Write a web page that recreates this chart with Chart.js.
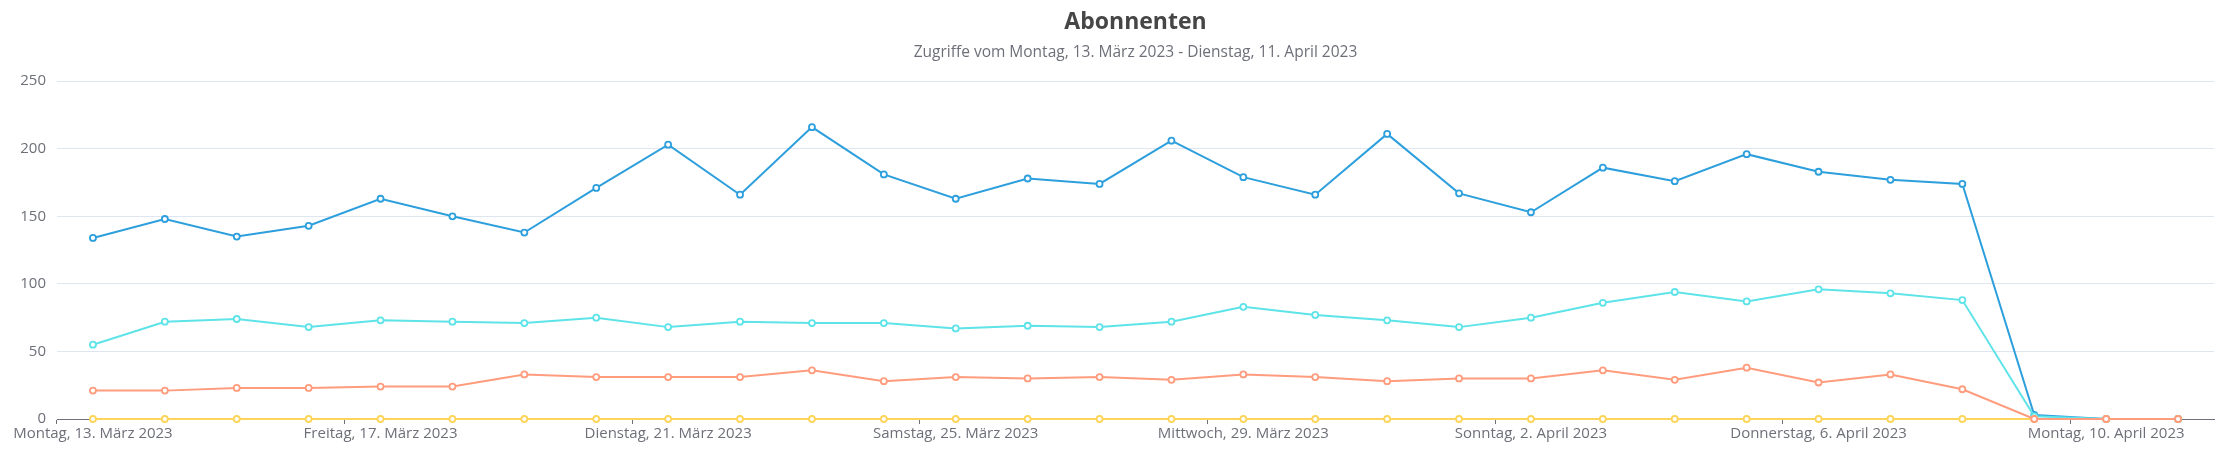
<!DOCTYPE html>
<html lang="de">
<head>
    <meta charset="UTF-8">
    <title>Abonnenten</title>
    <script src="https://cdn.jsdelivr.net/npm/chart.js"></script>
    <style>
        body {
            margin: 0;
            padding: 0;
            background-color: #ffffff;
        }
        .chart-box {
            position: relative;
            width: 2228px;
            height: 455px;
        }
    </style>
</head>
<body>

<div class="chart-box">
    <canvas id="aboChart"></canvas>
</div>

<script>
    // Tage 13. Maerz - 11. April 2023
    var days = [
        'Montag, 13. März 2023', 'Dienstag, 14. März 2023', 'Mittwoch, 15. März 2023', 'Donnerstag, 16. März 2023',
        'Freitag, 17. März 2023', 'Samstag, 18. März 2023', 'Sonntag, 19. März 2023', 'Montag, 20. März 2023',
        'Dienstag, 21. März 2023', 'Mittwoch, 22. März 2023', 'Donnerstag, 23. März 2023', 'Freitag, 24. März 2023',
        'Samstag, 25. März 2023', 'Sonntag, 26. März 2023', 'Montag, 27. März 2023', 'Dienstag, 28. März 2023',
        'Mittwoch, 29. März 2023', 'Donnerstag, 30. März 2023', 'Freitag, 31. März 2023', 'Samstag, 1. April 2023',
        'Sonntag, 2. April 2023', 'Montag, 3. April 2023', 'Dienstag, 4. April 2023', 'Mittwoch, 5. April 2023',
        'Donnerstag, 6. April 2023', 'Freitag, 7. April 2023', 'Samstag, 8. April 2023', 'Sonntag, 9. April 2023',
        'Montag, 10. April 2023', 'Dienstag, 11. April 2023'
    ];

    var blueData = [134, 148, 135, 143, 163, 150, 138, 171, 203, 166, 216, 181, 163, 178, 174,
                    206, 179, 166, 211, 167, 153, 186, 176, 196, 183, 177, 174, 3, 0, 0];
    var cyanData = [55, 72, 74, 68, 73, 72, 71, 75, 68, 72, 71, 71, 67, 69, 68,
                    72, 83, 77, 73, 68, 75, 86, 94, 87, 96, 93, 88, 2, 0, 0];
    var salmonData = [21, 21, 23, 23, 24, 24, 33, 31, 31, 31, 36, 28, 31, 30, 31,
                      29, 33, 31, 28, 30, 30, 36, 29, 38, 27, 33, 22, 0, 0, 0];
    var yellowData = [0, 0, 0, 0, 0, 0, 0, 0, 0, 0, 0, 0, 0, 0, 0,
                      0, 0, 0, 0, 0, 0, 0, 0, 0, 0, 0, 0, 0, 0, 0];

    var yTicks = [0, 50, 100, 150, 200, 250];

    var labelStep = 4;
    var axisGrey = '#6e7079';
    var fontName = "'Open Sans', 'Noto Sans', sans-serif";

    function makeSet(data, color, order) {
        return {
            data: data,
            borderColor: color,
            backgroundColor: '#ffffff',
            pointBackgroundColor: '#ffffff',
            pointBorderColor: color,
            pointRadius: 3,
            pointBorderWidth: 1.8,
            borderWidth: 2,
            tension: 0,
            fill: false,
            clip: 10,
            order: order
        };
    }

    var ctx = document.getElementById('aboChart').getContext('2d');
    new Chart(ctx, {
        type: 'line',
        data: {
            labels: days,
            datasets: [
                makeSet(salmonData, '#ff9c7d', 1),
                makeSet(yellowData, '#fdd55b', 2),
                makeSet(cyanData, '#5ee3e8', 3),
                makeSet(blueData, '#2d9fdc', 4)
            ]
        },
        options: {
            responsive: true,
            maintainAspectRatio: false,
            animation: false,
            layout: {
                padding: { left: 0, right: 14, top: 0, bottom: 0 }
            },
            plugins: {
                legend: { display: false },
                tooltip: { enabled: false },
                title: {
                    display: true,
                    text: 'Abonnenten',
                    fullSize: false,
                    color: '#464646',
                    font: { family: fontName, size: 23, weight: 'bold' },
                    padding: { top: 9, bottom: 7 }
                },
                subtitle: {
                    display: true,
                    text: 'Zugriffe vom Montag, 13. März 2023 - Dienstag, 11. April 2023',
                    fullSize: false,
                    color: axisGrey,
                    font: { family: fontName, size: 15.5 },
                    padding: { top: 0, bottom: 19 }
                }
            },
            scales: {
                x: {
                    offset: true,
                    grid: {
                        offset: true,
                        drawOnChartArea: false,
                        drawTicks: true,
                        tickLength: 5,
                        tickColor: function(c) {
                            return (c.index % labelStep === 0 || c.index === days.length) ? axisGrey : 'rgba(0,0,0,0)';
                        }
                    },
                    border: { display: true, color: axisGrey, width: 1 },
                    ticks: {
                        autoSkip: false,
                        maxRotation: 0,
                        color: axisGrey,
                        padding: 1,
                        font: { family: fontName, size: 15 },
                        callback: function(val, i) {
                            return i % labelStep === 0 ? days[i] : '';
                        }
                    },
                    afterFit: function(scale) { scale.height = 36; }
                },
                y: {
                    min: 0,
                    max: 250,
                    afterBuildTicks: function(scale) {
                        scale.ticks = yTicks.map(function(v) { return { value: v }; });
                    },
                    grid: {
                        color: '#e0e6f1',
                        drawTicks: false
                    },
                    border: { display: false },
                    ticks: {
                        color: axisGrey,
                        padding: 11,
                        font: { family: fontName, size: 15 }
                    },
                    afterFit: function(scale) { scale.width = 57; }
                }
            }
        }
    });
</script>

</body>
</html>
